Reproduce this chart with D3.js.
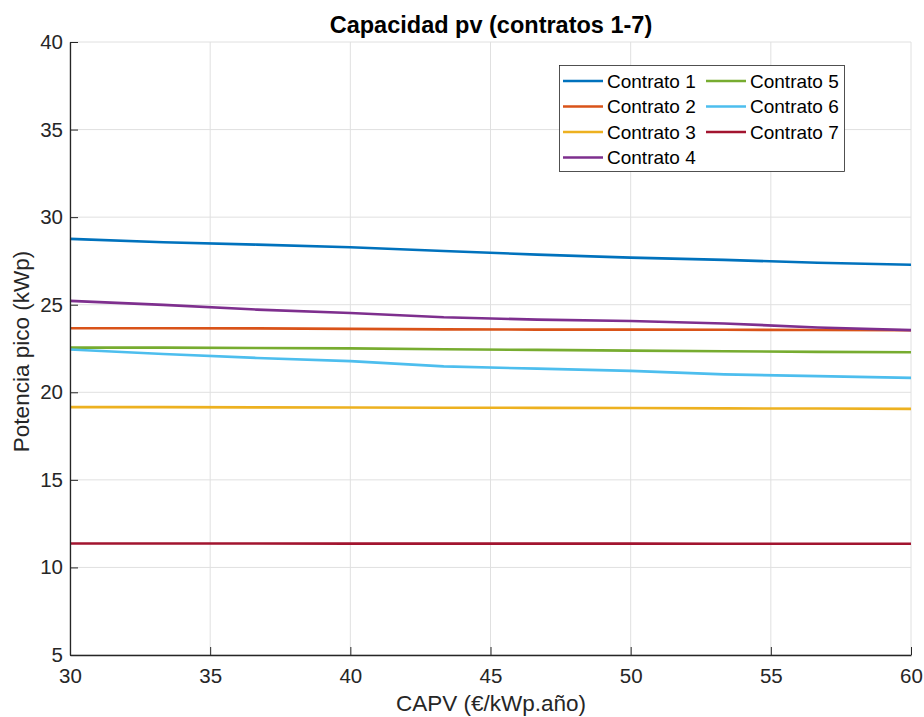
<!DOCTYPE html>
<html>
<head>
<meta charset="utf-8">
<script src="https://cdn.jsdelivr.net/npm/d3@7"></script>
<style>
  html, body { margin: 0; padding: 0; background: #fff; }
  svg { display: block; font-family: "Liberation Sans", Arial, Helvetica, sans-serif; }
</style>
</head>
<body>
<svg id="chart" width="924" height="717"></svg>
<script>
// CAPV sweep (€/kWp.año)
const capv = [30, 33.33, 36.67, 40, 43.33, 46.67, 50, 53.33, 56.67, 60];

// Peak power per contract (kWp)
const contrato1 = [28.76, 28.57, 28.43, 28.28, 28.07, 27.86, 27.69, 27.56, 27.40, 27.28];
const contrato2 = [23.66, 23.66, 23.65, 23.62, 23.59, 23.58, 23.58, 23.57, 23.56, 23.54];
const contrato3 = [19.15, 19.15, 19.14, 19.13, 19.12, 19.11, 19.10, 19.08, 19.07, 19.05];
const contrato4 = [25.22, 24.99, 24.72, 24.53, 24.28, 24.15, 24.07, 23.93, 23.70, 23.55];
const contrato5 = [22.55, 22.55, 22.53, 22.51, 22.46, 22.42, 22.38, 22.34, 22.31, 22.29];
const contrato6 = [22.44, 22.19, 21.96, 21.78, 21.48, 21.35, 21.22, 21.02, 20.92, 20.82];
const contrato7 = [11.37, 11.37, 11.37, 11.36, 11.36, 11.36, 11.36, 11.35, 11.35, 11.35];

const seriesNames = ["Contrato 1", "Contrato 2", "Contrato 3", "Contrato 4", "Contrato 5", "Contrato 6", "Contrato 7"];
const seriesValues = [contrato1, contrato2, contrato3, contrato4, contrato5, contrato6, contrato7];
const seriesColors = ["#0072BD", "#D95319", "#EDB120", "#7E2F8E", "#77AC30", "#4DBEEE", "#A2142F"];

const xTicks = [30, 35, 40, 45, 50, 55, 60];
const yTicks = [5, 10, 15, 20, 25, 30, 35, 40];

const titleText = "Capacidad pv (contratos 1-7)";
const xLabel = "CAPV (€/kWp.año)";
const yLabel = "Potencia pico (kWp)";

const svg = d3.select("#chart");
const plot = { left: 70, right: 911, top: 42, bottom: 655 };

const x = d3.scaleLinear().domain([30, 60]).range([plot.left, plot.right]);
const y = d3.scaleLinear().domain([5, 40]).range([plot.bottom, plot.top]);

// grid
const grid = svg.append("g");
grid.selectAll("line.gx").data(xTicks).join("line")
  .attr("x1", d => x(d)).attr("x2", d => x(d))
  .attr("y1", plot.top).attr("y2", plot.bottom)
  .attr("stroke", "#e0e0e0").attr("stroke-width", 1);
grid.selectAll("line.gy").data(yTicks).join("line")
  .attr("y1", d => y(d)).attr("y2", d => y(d))
  .attr("x1", plot.left).attr("x2", plot.right)
  .attr("stroke", "#e0e0e0").attr("stroke-width", 1);

// series
const line = d3.line().x((d, i) => x(capv[i])).y(d => y(d));
svg.append("g").selectAll("path").data(seriesValues).join("path")
  .attr("d", d => line(d))
  .attr("fill", "none")
  .attr("stroke", (d, i) => seriesColors[i])
  .attr("stroke-width", 2.6)
  .attr("stroke-linejoin", "round");

// axes
const xAxis = d3.axisBottom(x).tickValues(xTicks).tickSizeInner(-8).tickSizeOuter(0).tickPadding(13);
const yAxis = d3.axisLeft(y).tickValues(yTicks).tickSizeInner(-8).tickSizeOuter(0).tickPadding(7);

const gx = svg.append("g").attr("transform", `translate(0,${plot.bottom})`).call(xAxis);
const gy = svg.append("g").attr("transform", `translate(${plot.left},0)`).call(yAxis);
[gx, gy].forEach(g => {
  g.select(".domain").attr("stroke", "#262626").attr("stroke-width", 1.3);
  g.selectAll(".tick line").attr("stroke", "#262626").attr("stroke-width", 1);
  g.selectAll(".tick text").attr("fill", "#262626")
    .style("font-family", "'Liberation Sans', Arial, sans-serif").style("font-size", "20.5px");
});
gx.selectAll(".tick text").attr("dy", "0.71em");

// labels
svg.append("text")
  .attr("x", 491).attr("y", 33)
  .attr("text-anchor", "middle")
  .style("font-size", "23.5px").style("font-weight", "bold").attr("fill", "#000")
  .text(titleText);

svg.append("text")
  .attr("x", 491).attr("y", 711)
  .attr("text-anchor", "middle")
  .style("font-size", "22.5px").attr("fill", "#262626")
  .text(xLabel);

svg.append("text")
  .attr("transform", `translate(29,${(plot.top + plot.bottom) / 2 + 3}) rotate(-90)`)
  .attr("text-anchor", "middle")
  .style("font-size", "22.5px").attr("fill", "#262626")
  .text(yLabel);

// legend
const legend = svg.append("g");
legend.append("rect")
  .attr("x", 559.5).attr("y", 65.5).attr("width", 285).attr("height", 106)
  .attr("fill", "#fff").attr("stroke", "#262626").attr("stroke-width", 0.8);

const rowsPerCol = 4;
const legendItems = legend.selectAll("g.item").data(seriesNames).join("g")
  .attr("transform", (d, i) => {
    const col = Math.floor(i / rowsPerCol);
    const row = i % rowsPerCol;
    return `translate(${563 + col * 143},${81 + row * 25.5})`;
  });
legendItems.append("line")
  .attr("x1", 0).attr("x2", 40).attr("y1", 0).attr("y2", 0)
  .attr("stroke", (d, i) => seriesColors[i]).attr("stroke-width", 2.6);
legendItems.append("text")
  .attr("x", 44).attr("y", 0).attr("dy", "0.36em")
  .style("font-size", "19px").attr("fill", "#000")
  .text(d => d);
</script>
</body>
</html>
